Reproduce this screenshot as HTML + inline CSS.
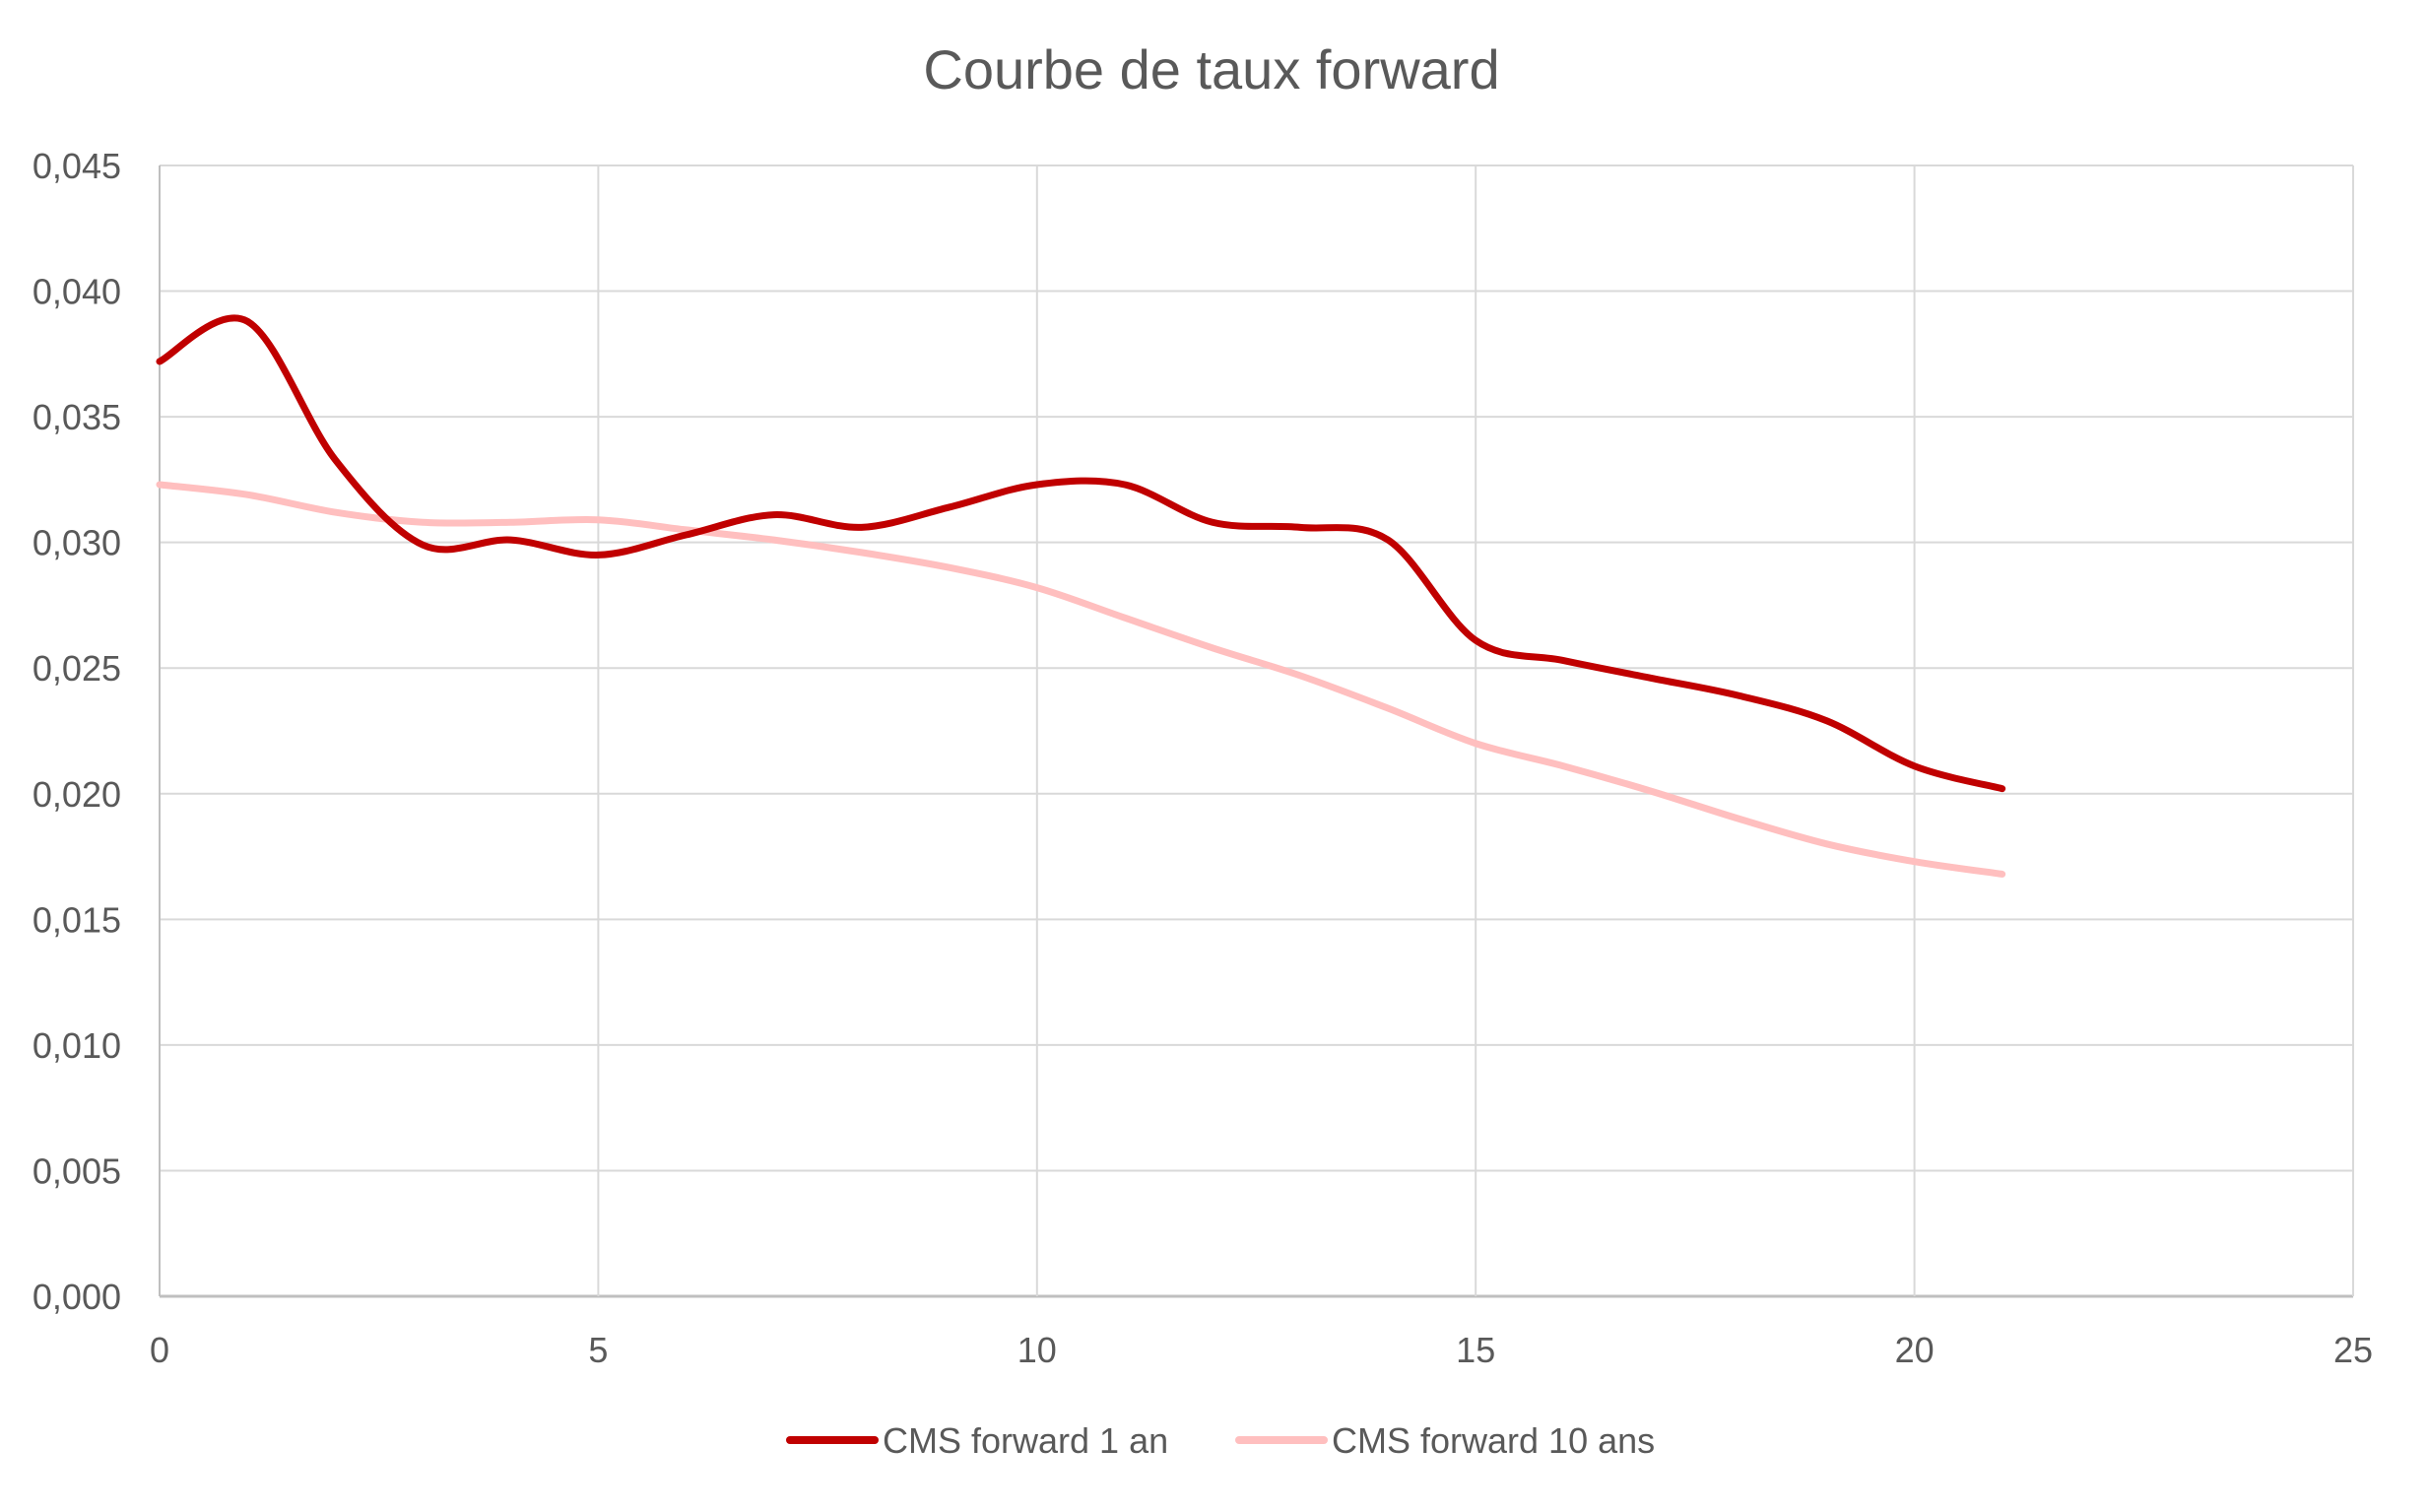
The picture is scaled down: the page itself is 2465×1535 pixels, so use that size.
<!DOCTYPE html>
<html><head><meta charset="utf-8"><style>
html,body{margin:0;padding:0;background:#fff;}
svg{display:block;font-family:"Liberation Sans",sans-serif;}
</style></head><body>
<svg id="chart" width="2465" height="1535" viewBox="0 0 2465 1535" xmlns="http://www.w3.org/2000/svg">
<rect width="2465" height="1535" fill="#fff"/>
<text x="1230" y="90" text-anchor="middle" font-size="56" fill="#595959">Courbe de taux forward</text>
<g id="grid"></g><g id="series"></g><g id="axes"></g>
<g>
<g>
<line x1="802" y1="1462" x2="888" y2="1462" stroke="#C00000" stroke-width="8" stroke-linecap="round"/>
<text x="896" y="1475" font-size="36" fill="#595959">CMS forward 1 an</text></g>
<g>
<line x1="1258" y1="1462" x2="1344" y2="1462" stroke="#FFBFBF" stroke-width="8" stroke-linecap="round"/>
<text x="1352" y="1475" font-size="36" fill="#595959">CMS forward 10 ans</text></g>
</g>
</svg>
<script>
const xValues = [0,1,2,3,4,5,6,7,8,9,10,11,12,13,14,15,16,17,18,19,20,21];
const cms1an = [0.0372,0.0388,0.0333,0.0299,0.0301,0.0295,0.0303,0.0311,0.0306,0.0314,0.0323,0.0323,0.0308,0.0306,0.0301,0.0261,0.0253,0.0246,0.0239,0.0229,0.0211,0.0202];
const cms10ans = [0.0323,0.0319,0.0312,0.0308,0.0308,0.0309,0.0305,0.0301,0.0296,0.0290,0.0282,0.0270,0.0258,0.0247,0.0234,0.0220,0.0211,0.0201,0.0190,0.0180,0.0173,0.0168];
const yTicks = [0,0.005,0.010,0.015,0.020,0.025,0.030,0.035,0.040,0.045];
const xTicks = [0,5,10,15,20,25];

const L=162,R=2389,T=168,B=1316;
const xs=v=>L+(R-L)*v/25;
const ys=v=>B-(B-T)*v/0.045;
const NS='http://www.w3.org/2000/svg';
function mk(tag,attrs,parent){const e=document.createElementNS(NS,tag);for(const k in attrs)e.setAttribute(k,attrs[k]);parent.appendChild(e);return e;}
const grid=document.getElementById('grid'),axes=document.getElementById('axes'),ser=document.getElementById('series');
yTicks.forEach(t=>{
  const y=ys(t);
  const ln=mk('line',{x1:L,x2:R,y1:y,y2:y,stroke:t===0?'#BFBFBF':'#D9D9D9','stroke-width':t===0?3:2},grid);
  
  
  const tx=mk('text',{x:123,y:y+13,'text-anchor':'end','font-size':36,fill:'#595959'},axes);
  tx.textContent=t.toFixed(3).replace('.',',');
  
  
});
xTicks.forEach(t=>{
  const x=xs(t);
  const ln=mk('line',{x1:x,x2:x,y1:T,y2:B,stroke:t===0?'#BFBFBF':'#D9D9D9','stroke-width':2},grid);
  
  
  const tx=mk('text',{x:x,y:B+67,'text-anchor':'middle','font-size':36,fill:'#595959'},axes);
  tx.textContent=String(t);
  
  
});
function smooth(vals){
  const p=vals.map((v,i)=>[xs(xValues[i]),ys(v)]);
  let d='M'+p[0][0]+','+p[0][1];
  for(let i=0;i<p.length-1;i++){
    const p0=p[i-1]||p[i],p1=p[i],p2=p[i+1],p3=p[i+2]||p2;
    const c1=[p1[0]+(p2[0]-p0[0])/6,p1[1]+(p2[1]-p0[1])/6];
    const c2=[p2[0]-(p3[0]-p1[0])/6,p2[1]-(p3[1]-p1[1])/6];
    d+=' C'+c1+' '+c2+' '+p2;
  }
  return d;
}
const s2=mk('path',{d:smooth(cms10ans),fill:'none',stroke:'#FFBFBF','stroke-width':7,'stroke-linecap':'round'},ser);


const s1=mk('path',{d:smooth(cms1an),fill:'none',stroke:'#C00000','stroke-width':7,'stroke-linecap':'round'},ser);


</script>
</body></html>
